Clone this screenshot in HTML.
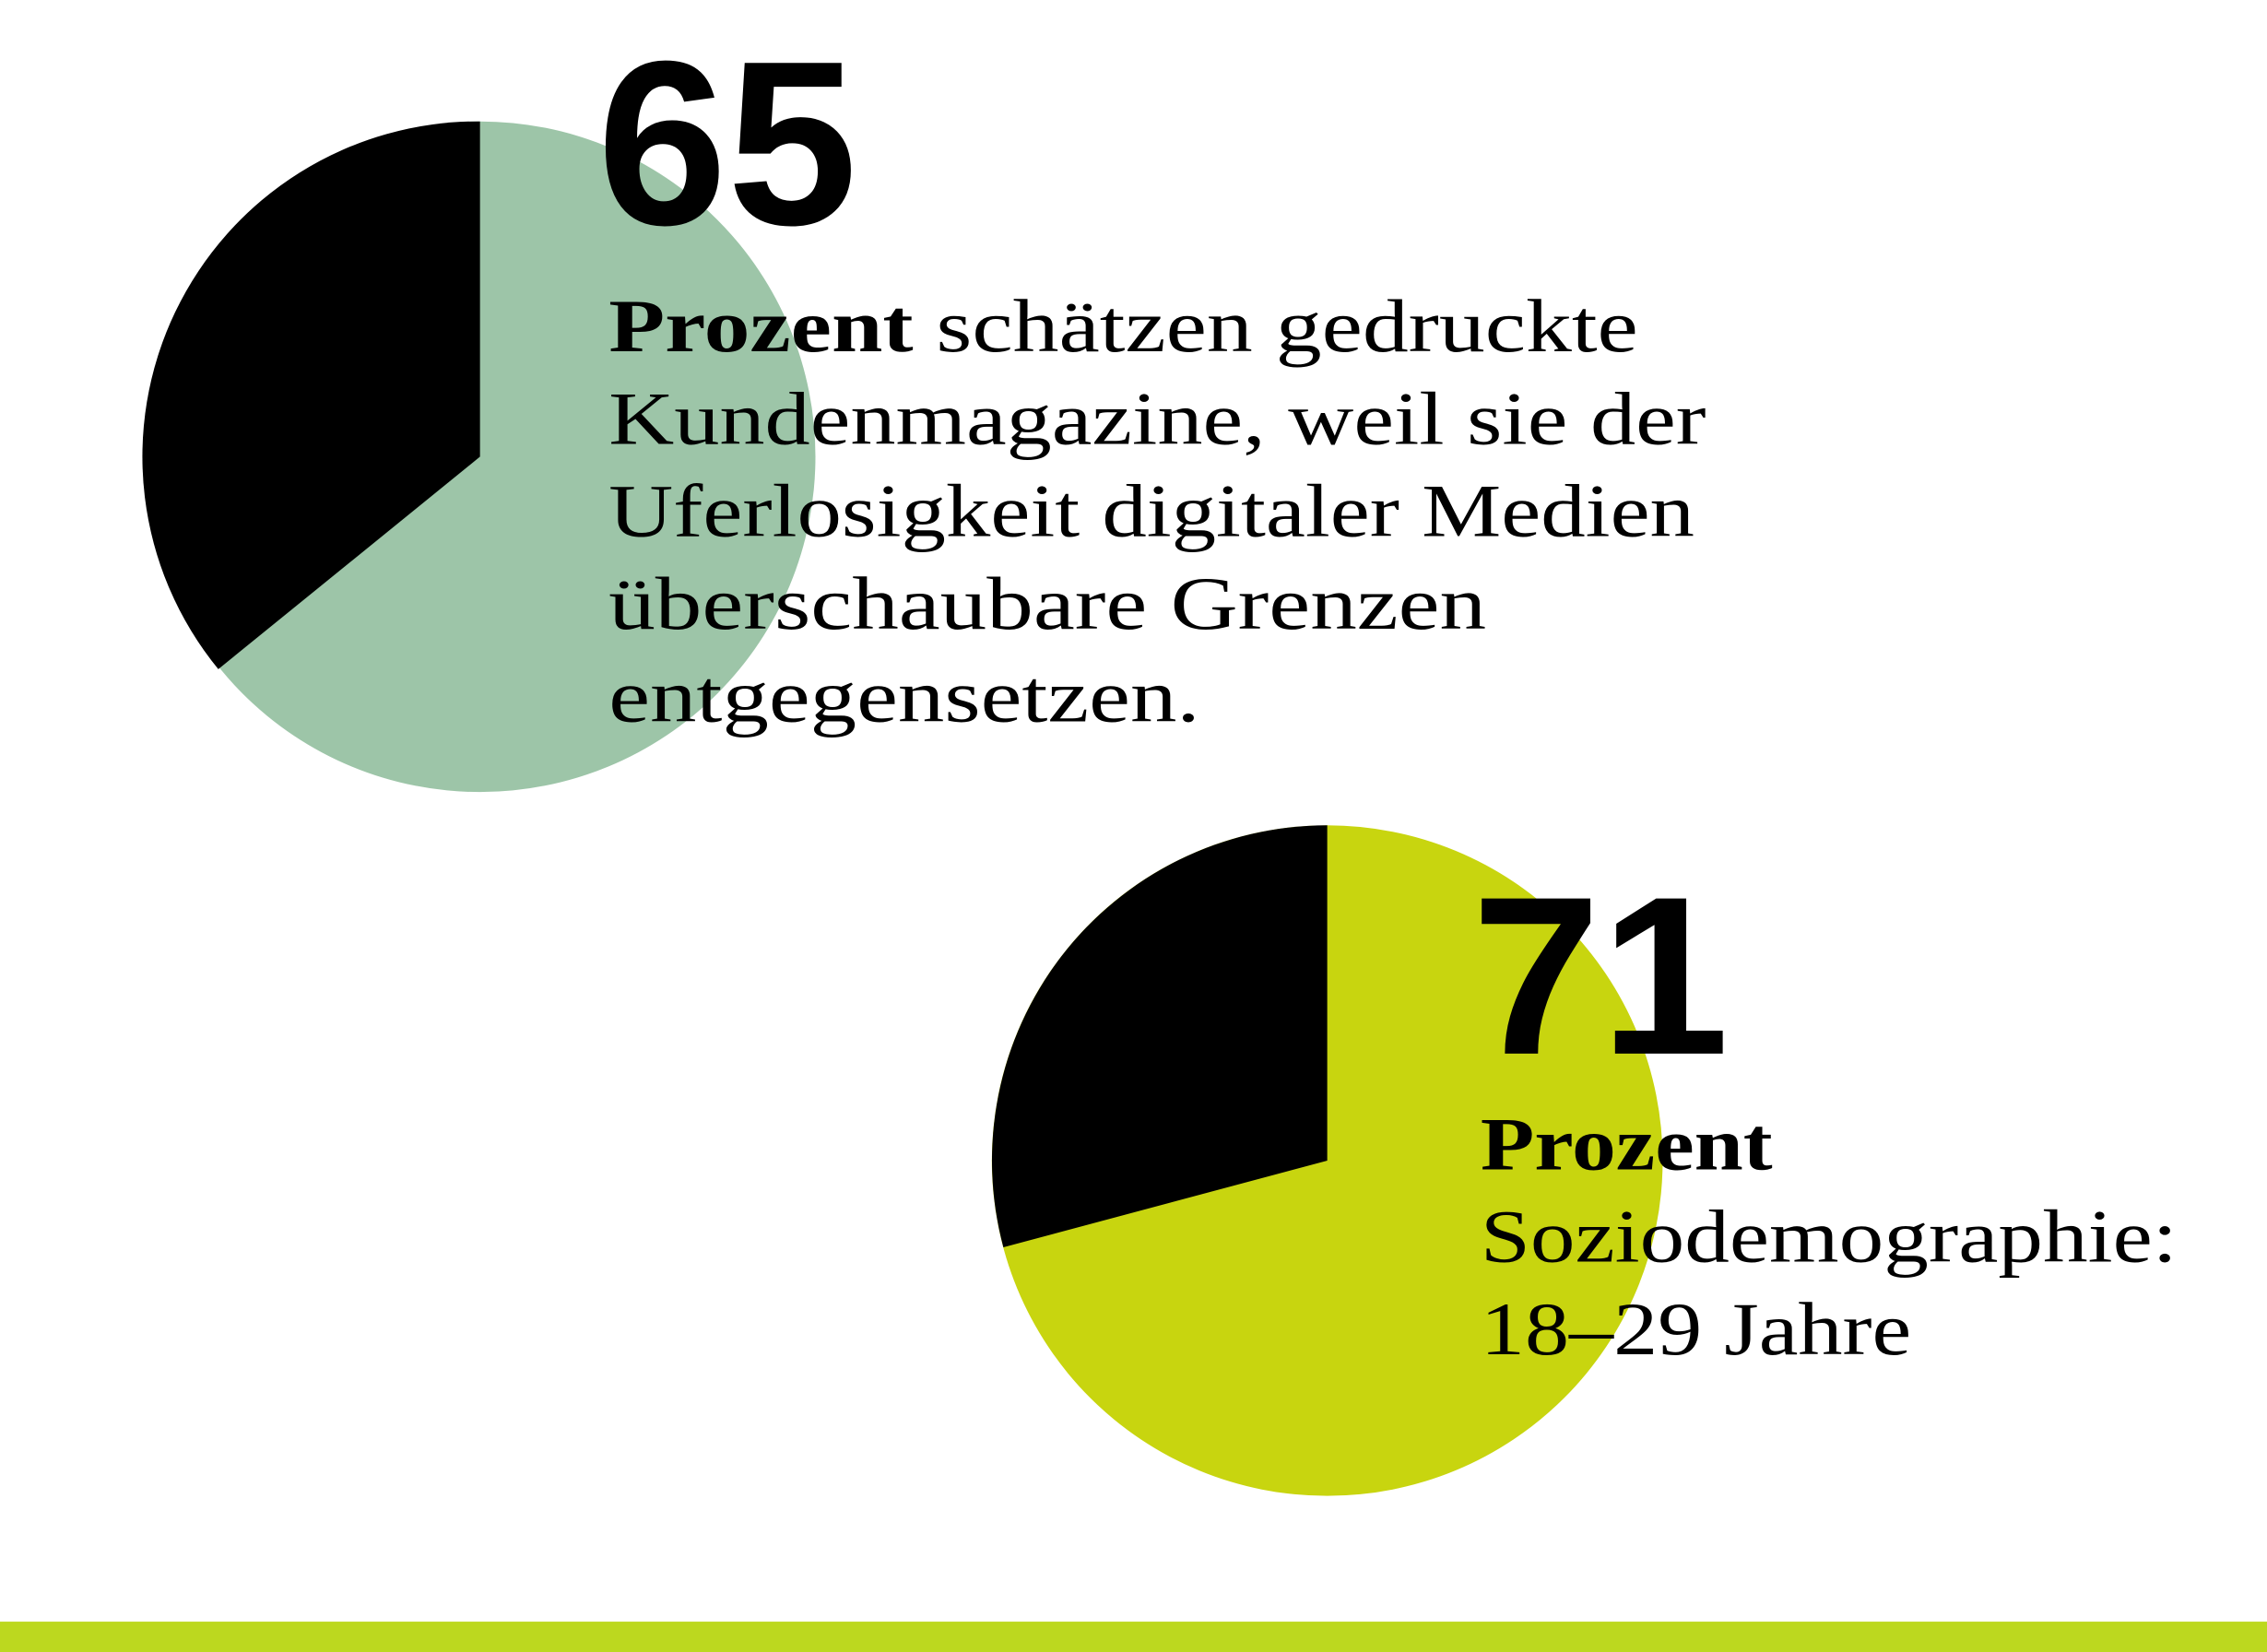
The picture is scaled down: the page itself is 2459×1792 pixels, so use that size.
<!DOCTYPE html>
<html><head><meta charset="utf-8"><style>
html,body{margin:0;padding:0;background:#fff;}
svg{display:block;}
</style></head><body>
<svg width="2459" height="1792" viewBox="0 0 1568 1143" preserveAspectRatio="none" xmlns="http://www.w3.org/2000/svg">
<rect width="1568" height="1143" fill="#fff"/>
<!-- pie 1 -->
<circle cx="332" cy="316" r="232" fill="#9dc5a8"/>
<path d="M332 316 L332 84 A232 232 0 0 0 151 463 Z" fill="#000"/>
<!-- pie 2 -->
<circle cx="918" cy="803" r="232" fill="#c8d50f"/>
<path d="M918 803 L918 571 A232 232 0 0 0 694 863 Z" fill="#000"/>
<!-- bottom bar -->
<rect x="0" y="1122" width="1568" height="21" fill="#bcd81f"/>
<g font-family="Liberation Sans, sans-serif" font-weight="bold" fill="#000">
<text x="413" y="155" font-size="162" textLength="180" lengthAdjust="spacingAndGlyphs">65</text>
<text x="1018" y="729" font-size="156" textLength="178" lengthAdjust="spacingAndGlyphs">71</text>
</g>
<g font-family="Liberation Serif, serif" font-size="52" fill="#000">
<text x="421" y="243" textLength="712" lengthAdjust="spacingAndGlyphs"><tspan font-weight="bold">Prozent</tspan> schätzen gedruckte</text>
<text x="421" y="307" textLength="759" lengthAdjust="spacingAndGlyphs">Kundenmagazine, weil sie der</text>
<text x="421" y="371" textLength="751" lengthAdjust="spacingAndGlyphs">Uferlosigkeit digitaler Medien</text>
<text x="421" y="435" textLength="607" lengthAdjust="spacingAndGlyphs">überschaubare Grenzen</text>
<text x="421" y="499" textLength="409" lengthAdjust="spacingAndGlyphs">entgegensetzen.</text>
<text x="1024" y="809" font-weight="bold" textLength="202" lengthAdjust="spacingAndGlyphs">Prozent</text>
<text x="1024" y="873" textLength="482" lengthAdjust="spacingAndGlyphs">Soziodemographie:</text>
<text x="1024" y="937" textLength="298" lengthAdjust="spacingAndGlyphs">18–29 Jahre</text>
</g>
</svg>
</body></html>
